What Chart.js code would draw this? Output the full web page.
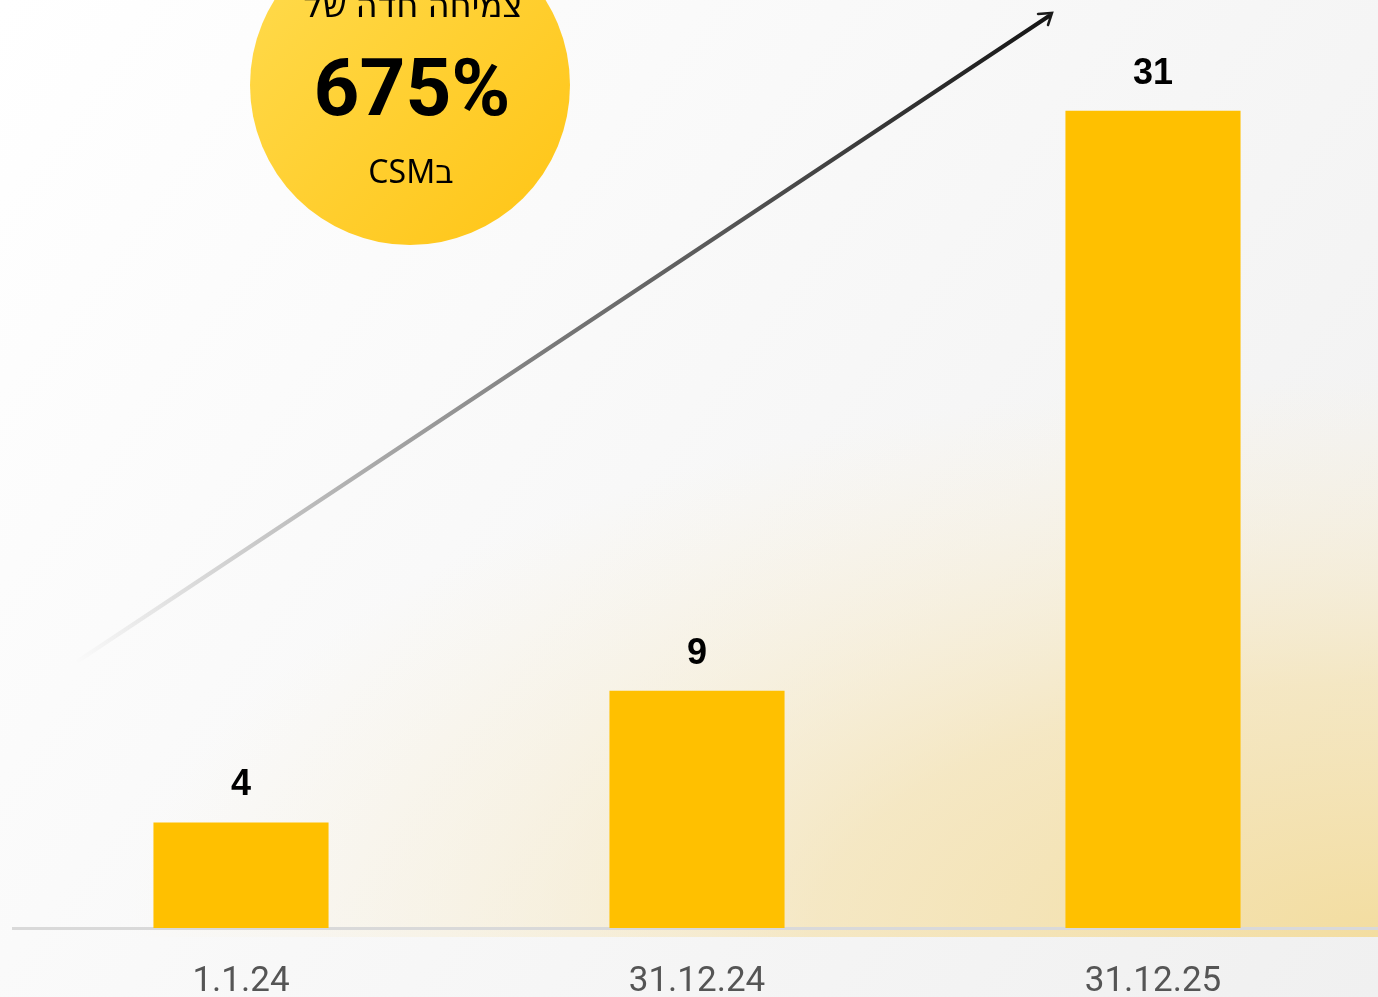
<!DOCTYPE html>
<html lang="he">
<head>
<meta charset="utf-8">
<script src="https://cdn.jsdelivr.net/npm/chart.js@4.4.1/dist/chart.umd.min.js"></script>
<style>
  html, body { margin: 0; padding: 0; background: #f7f7f7; overflow: hidden; }
  #wrap { width: 1381px; height: 997px; position: relative; }
</style>
</head>
<body>
<div id="wrap"><canvas id="csmChart"></canvas></div>
<script>
const labels = ["1.1.24", "31.12.24", "31.12.25"];
const csmValues = [4, 9, 31];
const badgeTitle = "צמיחה חדה של";
const badgeValue = "675%";
const badgeSub = "בCSM";

const charts = {};

const backgroundPlugin = {
  id: "background",
  beforeDraw(chart) {
    const c = chart.ctx;
    const w = 1378, h = chart.height;
    c.save();
    const bg = c.createLinearGradient(0, 0, w, h);
    bg.addColorStop(0, "#ffffff");
    bg.addColorStop(1, "#f0f0f0");
    c.fillStyle = bg;
    c.fillRect(0, 0, chart.width, h);

    // warm glow behind the bars (elliptical, fading to the top-left)
    c.save();
    c.beginPath();
    c.rect(120, 300, chart.width - 120, 637);
    c.clip();
    c.translate(w, 937);
    c.scale(1.0, 0.45);
    const glow = c.createRadialGradient(0, 0, 0, 0, 0, 1250);
    glow.addColorStop(0, "rgba(243, 221, 160, 1)");
    glow.addColorStop(0.45, "rgba(245, 226, 175, 0.7)");
    glow.addColorStop(0.8, "rgba(248, 236, 205, 0.3)");
    glow.addColorStop(1, "rgba(250, 240, 215, 0)");
    c.fillStyle = glow;
    c.fillRect(-w, -1400, w + 20, 1410);
    c.restore();
    c.restore();
  },
};

const decorPlugin = {
  id: "decor",
  afterDatasetsDraw(chart) {
    const c = chart.ctx;
    const meta = chart.getDatasetMeta(0);
    c.save();

    // value labels
    c.fillStyle = "#000";
    c.font = "bold 36px 'Liberation Sans', 'DejaVu Sans', sans-serif";
    c.textAlign = "center";
    c.textBaseline = "middle";
    meta.data.forEach((bar, i) => {
      c.fillText(String(csmValues[i]), bar.x, bar.y - 37);
    });

    // growth arrow
    const x0 = 75, y0 = 663, x1 = 1052, y1 = 14;
    const g = c.createLinearGradient(x0, y0, x1, y1);
    g.addColorStop(0, "rgba(30,30,30,0)");
    g.addColorStop(0.5, "rgba(30,30,30,0.6)");
    g.addColorStop(1, "rgba(20,20,20,1)");
    c.strokeStyle = g;
    c.lineWidth = 4;
    c.lineCap = "round";
    c.beginPath();
    c.moveTo(x0, y0);
    c.lineTo(x1 - 3, y1 + 2);
    c.stroke();
    c.strokeStyle = "#1a1a1a";
    c.lineWidth = 2.5;
    c.beginPath();
    c.moveTo(1038, 14);
    c.lineTo(1052, 13);
    c.lineTo(1048, 25);
    c.stroke();

    // badge circle
    const cx = 410, cy = 85, r = 160;
    const cg = c.createLinearGradient(cx - r, cy - r, cx + r, cy + r);
    cg.addColorStop(0, "#ffdc50");
    cg.addColorStop(1, "#ffc414");
    c.fillStyle = cg;
    c.beginPath();
    c.arc(cx, cy, r, 0, Math.PI * 2);
    c.fill();

    c.fillStyle = "#000";
    c.textAlign = "center";
    c.textBaseline = "alphabetic";
    c.direction = "rtl";
    c.font = "34px 'Noto Sans', 'DejaVu Sans', sans-serif";
    c.fillText(badgeTitle, cx + 3, 17);
    c.direction = "ltr";
    c.font = "bold 80px Roboto, 'DejaVu Sans', sans-serif";
    c.fillText(badgeValue, cx + 2, 115);
    c.direction = "rtl";
    c.font = "32px 'Noto Sans', 'DejaVu Sans', sans-serif";
    c.fillText(badgeSub, cx + 1, 183);
    c.restore();
  },
};

function loadCsmChart() {
  const ctx = document.getElementById("csmChart");
  if (!ctx) return;

  if (charts.csm) {
    charts.csm.destroy();
  }

  charts.csm = new Chart(ctx.getContext("2d"), {
    type: "bar",
    data: {
      labels: labels,
      datasets: [
        {
          data: csmValues,
          backgroundColor: "#ffc000",
          borderWidth: 0,
          barPercentage: 0.384,
          categoryPercentage: 1,
        },
      ],
    },
    options: {
      responsive: true,
      maintainAspectRatio: false,
      animation: false,
      layout: { padding: { left: 13, right: 0, top: 0, bottom: 0 } },
      plugins: {
        legend: { display: false },
        tooltip: { enabled: false },
      },
      scales: {
        x: {
          grid: { display: false, drawTicks: false },
          border: { display: true, color: "#d9d9d9", width: 3 },
          ticks: {
            color: "#555",
            padding: 33,
            font: { family: "Roboto, sans-serif", size: 35 },
          },
          afterFit(scale) {
            scale.height = 69;
          },
        },
        y: {
          display: false,
          min: 0,
          max: 35.2,
        },
      },
    },
    plugins: [backgroundPlugin, decorPlugin],
  });
}

loadCsmChart();
</script>
</body>
</html>
